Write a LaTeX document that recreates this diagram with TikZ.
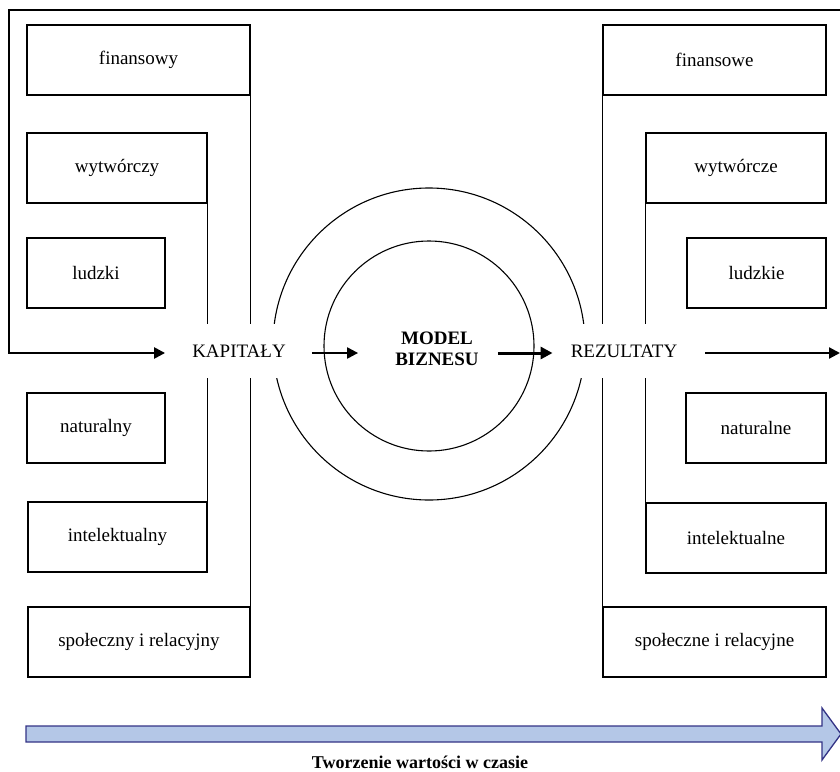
\documentclass[tikz,border=0pt]{standalone}
\usepackage{fontspec}
\setmainfont{Liberation Serif}
\usetikzlibrary{arrows.meta}
\begin{document}
\begin{tikzpicture}[x=1pt,y=-1pt,
  txt/.style={font=\fontsize{19}{22}\selectfont},
  rbox/.style={txt, draw, line width=1.2pt, minimum height=70pt, inner sep=0pt},
  lbl/.style={txt, fill=white, inner xsep=0pt, inner ysep=0pt, minimum height=54pt},
  ring/.style={circle, draw, line width=1.1pt, inner sep=0pt},
  frameline/.style={line width=2.4pt, -{Triangle[length=11pt,width=11pt]}},
  arr/.style={line width=2.2pt, -{Triangle[length=11pt,width=11pt]}},
  arrthick/.style={line width=3pt, -{Triangle[length=12pt,width=12pt]}},
  sideline/.style={line width=1.2pt},
  timearrow/.style={draw=blue!40!black!80, line width=1.3pt, fill={rgb,255:red,180;green,199;blue,231}, line join=miter}
]
\useasboundingbox (0,0) rectangle (840,771);

% rings
\node[ring, minimum size=312pt] (outer) at (429,344) {};
\node[ring, minimum size=210pt] (inner) at (429,346) {};

% left boxes
\node[rbox, minimum width=223pt] (finL) at (138.5,60) {finansowy};
\node[rbox, minimum width=180pt] (wytL) at (117,168) {wytwórczy};
\node[rbox, minimum width=138pt] (ludL) at (96,273) {ludzki};
\node[rbox, minimum width=138pt] (natL) at (96,428) {naturalny};
\node[rbox, minimum width=179pt] (intL) at (117.5,537) {intelektualny};
\node[rbox, minimum width=222pt] (spoL) at (139,642) {społeczny i relacyjny};

% right boxes
\node[rbox, minimum width=223pt] (finR) at (714.5,60) {finansowe};
\node[rbox, minimum width=180pt] (wytR) at (736,168) {wytwórcze};
\node[rbox, minimum width=139pt] (ludR) at (756.5,273) {ludzkie};
\node[rbox, minimum width=140pt] (natR) at (756,428) {naturalne};
\node[rbox, minimum width=180pt] (intR) at (736,538) {intelektualne};
\node[rbox, minimum width=223pt] (spoR) at (714.5,642) {społeczne i relacyjne};

% side lines
\draw[sideline] (finL.south east) -- (spoL.north east);
\draw[sideline] (wytL.south east) -- (intL.north east);
\draw[sideline] (finR.south west) -- (spoR.north west);
\draw[sideline] (wytR.south west) -- (intR.north west);

% labels (white background cuts the lines)
\node[lbl] (kap) at (239,351) {KAPITAŁY};
\node[lbl] (rez) at (624,351) {REZULTATY};
\node[txt, font=\fontsize{19}{21}\selectfont\bfseries, align=center, inner sep=0pt] (model) at (437,349) {MODEL\\BIZNESU};

% frame with arrow into KAPITAŁY
\coordinate (topright) at (840,10);
\coordinate (rend) at (840,353);
\draw[frameline] (topright) -- (9,10) -- (9,353) -- ([xshift=-27pt,yshift=-2pt]kap.west);

% arrows
\draw[arr] ([xshift=26pt,yshift=-2pt]kap.east) -- ([xshift=-37pt,yshift=-4pt]model.west);
\draw[arrthick] ([xshift=19pt,yshift=-4pt]model.east) -- ([xshift=-18pt,yshift=-2pt]rez.west);
\draw[arr] ([xshift=28pt,yshift=-2pt]rez.east) -- (rend);

% time arrow
\draw[timearrow] (26,726) -- (822,726) -- (822,708) -- (841,734) -- (822,760) -- (822,742) -- (26,742) -- cycle;
\node[font=\fontsize{18}{20}\selectfont\bfseries, inner sep=0pt] (time) at (420,762) {Tworzenie wartości w czasie};
\end{tikzpicture}
\end{document}
